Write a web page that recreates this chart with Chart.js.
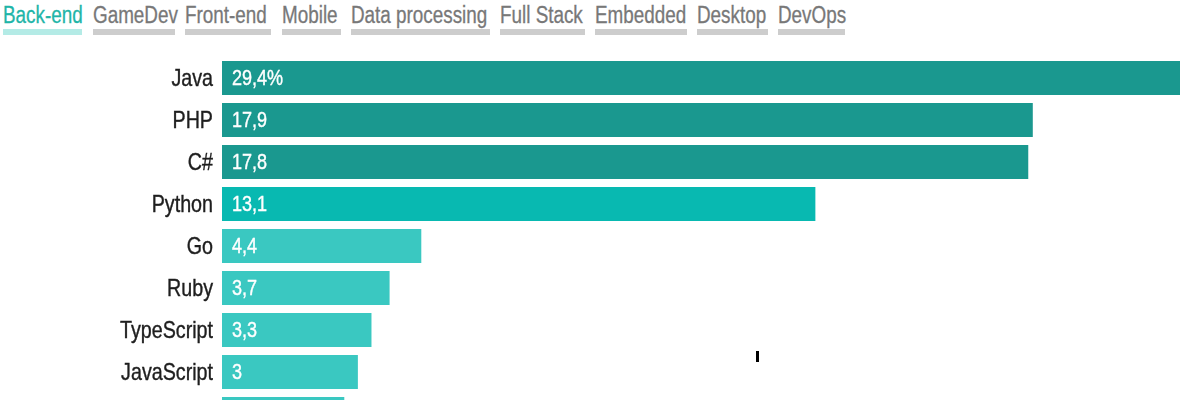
<!DOCTYPE html>
<html>
<head>
<meta charset="utf-8">
<script src="https://cdn.jsdelivr.net/npm/chart.js@4/dist/chart.umd.min.js"></script>
<style>
    html, body { margin: 0; padding: 0; background: #fff; overflow: hidden; width: 1180px; height: 400px; }
    body { font-family: "Liberation Sans", Arial, sans-serif; position: relative; }
    .tab { position: absolute; top: 2px; height: 27px; border-bottom: 6px solid #cdcdcd; overflow: visible; }
    .tab span { position: absolute; left: 0; top: 0; font-size: 23px; line-height: 27px; color: #787878;
                white-space: nowrap; transform: scaleX(0.82); transform-origin: 0 0;
                -webkit-text-stroke: 0.3px #787878; }
    .tab.active { border-bottom-color: #b4ebe6; }
    .tab.active span { color: #1fb5a8; -webkit-text-stroke-color: #1fb5a8; }
    #wrap { position: absolute; left: 0; top: 57px; width: 1180px; height: 378px; }
    .caret { position: absolute; left: 756px; top: 351px; width: 3px; height: 11px; background: #000; }
</style>
</head>
<body>
<div id="tabs"></div>
<div id="wrap"><canvas id="chart"></canvas></div>
<div class="caret"></div>
<script>
// ===== DATA =====
const tabNames = ["Back-end", "GameDev", "Front-end", "Mobile", "Data processing", "Full Stack", "Embedded", "Desktop", "DevOps"];
const tabLefts = [3, 93, 185, 282, 351, 500, 595, 697, 778];
const tabWidths = [79, 82, 86, 59, 139, 85, 92, 71, 67];

const languages = ["Java", "PHP", "C#", "Python", "Go", "Ruby", "TypeScript", "JavaScript", "Kotlin"];
const shares = [29.4, 17.9, 17.8, 13.1, 4.4, 3.7, 3.3, 3, 2.7];
const valueLabels = ["29,4%", "17,9", "17,8", "13,1", "4,4", "3,7", "3,3", "3", "2,7"];

const darkTeal = "#1a988f";
const midTeal = "#08b9b1";
const lightTeal = "#3ac8c1";

// narrow look: Liberation Sans squeezed horizontally
const NARROW = 0.82;

// ==== TABS ====
const tabsEl = document.getElementById("tabs");
tabNames.forEach((name, i) => {
    const t = document.createElement("div");
    t.className = "tab" + (i === 0 ? " active" : "");
    t.style.left = tabLefts[i] + "px";
    t.style.width = tabWidths[i] + "px";
    const s = document.createElement("span");
    s.textContent = name;
    t.appendChild(s);
    tabsEl.appendChild(t);
});

// ==== BAR COLORS ====
const barColors = shares.map((v, i) => i < 3 ? darkTeal : (i === 3 ? midTeal : lightTeal));

// ===== NARROW TEXT HELPER =====
function narrowText(ctx, text, x, y, align) {
    ctx.save();
    ctx.translate(x, y);
    ctx.scale(NARROW, 1);
    ctx.textAlign = align;
    ctx.fillText(text, 0, 0);
    ctx.strokeText(text, 0, 0); // a bit heavier, like the original narrow face
    ctx.restore();
}

// ===== CATEGORY + VALUE LABELS =====
const barLabels = {
    id: "barLabels",
    afterDatasetsDraw(chart) {
        const ctx = chart.ctx;
        const yScale = chart.scales.y;
        const meta = chart.getDatasetMeta(0);
        ctx.save();
        ctx.textBaseline = "middle";
        ctx.lineWidth = 0.4;

        // category names, right aligned left of the bars
        ctx.fillStyle = ctx.strokeStyle = "#1e1e1e";
        ctx.font = '24px "Liberation Sans", Arial, sans-serif';
        languages.forEach((name, i) => {
            narrowText(ctx, name, yScale.right - 9, yScale.getPixelForTick(i) + 1, "right");
        });

        // values inside the bars
        ctx.fillStyle = ctx.strokeStyle = "#fff";
        ctx.font = '22px "Liberation Sans", Arial, sans-serif';
        meta.data.forEach((bar, i) => {
            narrowText(ctx, valueLabels[i], bar.base + 10, bar.y + 1, "left");
        });
        ctx.restore();
    }
};

new Chart(document.getElementById("chart"), {
    type: "bar",
    data: {
        labels: languages,
        datasets: [{
            data: shares,
            backgroundColor: barColors,
            borderWidth: 0,
            categoryPercentage: 1,
            barPercentage: 0.81
        }]
    },
    options: {
        indexAxis: "y",
        responsive: true,
        maintainAspectRatio: false,
        animation: false,
        layout: { padding: 0 },
        plugins: { legend: { display: false }, tooltip: { enabled: false } },
        scales: {
            x: { display: false, min: 0, max: 21.15 },
            y: {
                grid: { display: false, drawTicks: false },
                border: { display: false },
                ticks: { display: false, padding: 0 },
                afterFit(scale) {
                    scale.width = 222;
                    scale.paddingTop = 0;
                    scale.paddingBottom = 0;
                }
            }
        }
    },
    plugins: [barLabels]
});
</script>
</body>
</html>
